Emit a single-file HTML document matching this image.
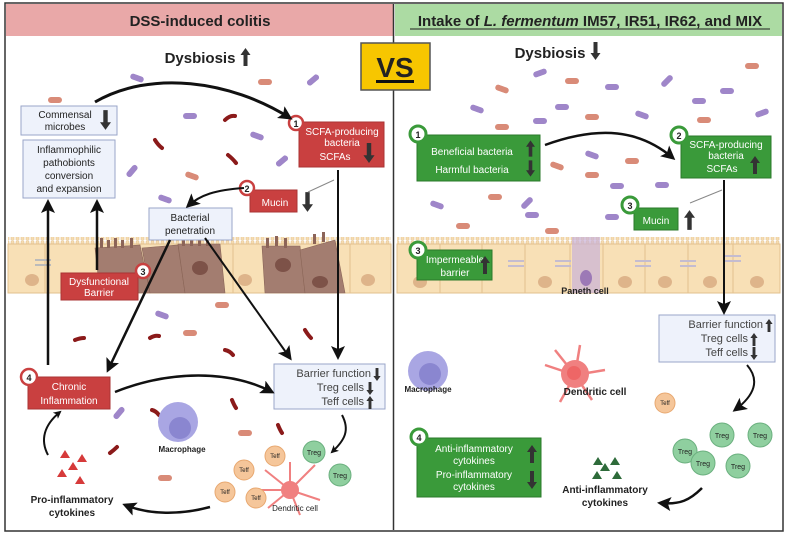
<!DOCTYPE html>
<html><head><meta charset="utf-8"><style>
html,body{margin:0;padding:0;background:#fff;width:787px;height:534px;overflow:hidden}
svg{display:block;font-family:"Liberation Sans",sans-serif}
.w{fill:#fff;font-size:10px;text-anchor:middle}
.k{fill:#222;text-anchor:middle}
</style></head><body>
<svg width="787" height="534" viewBox="0 0 787 534">
<defs>
<marker id="ah" markerWidth="8" markerHeight="8" refX="6" refY="4" orient="auto" markerUnits="userSpaceOnUse"><path d="M0,0 L8,4 L0,8 L2,4 Z" fill="#111"/></marker>
<marker id="ahb" markerWidth="14" markerHeight="14" refX="11" refY="7" orient="auto" markerUnits="userSpaceOnUse"><path d="M0,0 L14,7 L0,14 L3,7 Z" fill="#111"/></marker>
<symbol id="up" viewBox="0 0 10 18"><path d="M5,0 L10,7 L7,7 L7,18 L3,18 L3,7 L0,7 Z" fill="#333"/></symbol>
<symbol id="dn" viewBox="0 0 10 18"><path d="M5,18 L10,11 L7,11 L7,0 L3,0 L3,11 L0,11 Z" fill="#333"/></symbol>
<symbol id="bp" viewBox="0 0 14 6"><rect x="0" y="0" width="14" height="6" rx="3" fill="#9f86c9"/></symbol>
<symbol id="bo" viewBox="0 0 14 6"><rect x="0" y="0" width="14" height="6" rx="3" fill="#d98b78"/></symbol>
<pattern id="villi" width="5" height="8" patternUnits="userSpaceOnUse"><path d="M1,8 V2 A1.5,1.5 0 0 1 4,2 V8" fill="#f6dcb0" stroke="#e2c08e" stroke-width="0.6"/></pattern>
</defs>
<rect x="5" y="3" width="778" height="528" fill="#fff" stroke="#333" stroke-width="1.5"/>
<rect x="6" y="4" width="387" height="32" fill="#e9a8a8"/>
<rect x="395" y="4" width="387" height="32" fill="#acdba3"/>
<line x1="393.5" y1="4" x2="393.5" y2="530" stroke="#333" stroke-width="1.5"/>
<text x="200" y="26" class="k" font-size="15" font-weight="bold">DSS-induced colitis</text>
<text x="590" y="26" class="k" font-size="15" font-weight="bold">Intake of <tspan font-style="italic">L. fermentum</tspan> IM57, IR51, IR62, and MIX</text>
<line x1="410" y1="29" x2="770" y2="29" stroke="#222" stroke-width="1"/>

<rect x="361" y="43" width="69" height="47" fill="#f7c600" stroke="#555" stroke-width="1.5"/>
<text x="395" y="77" class="k" font-size="28" font-weight="bold" fill="#111">VS</text>
<rect x="376" y="80" width="38" height="3" fill="#111"/>

<rect x="8" y="237" width="383" height="8" fill="url(#villi)"/>
<rect x="8" y="244" width="383" height="49" fill="#f8e0b6" stroke="#e2c08e"/>
<g stroke="#e2c08e" stroke-width="1"><line x1="45" y1="244" x2="45" y2="293"/><line x1="233" y1="244" x2="233" y2="293"/><line x1="350" y1="244" x2="350" y2="293"/></g>
<g fill="#deb48a"><ellipse cx="32" cy="280" rx="7" ry="6"/><ellipse cx="72" cy="280" rx="7" ry="6"/><ellipse cx="245" cy="280" rx="7" ry="6"/><ellipse cx="368" cy="280" rx="7" ry="6"/><ellipse cx="330" cy="280" rx="7" ry="6"/></g>
<g fill="#a37d70" stroke="#8a6557" stroke-width="0.6">
<path d="M95,248 L140,245 L150,293 L100,293 Z"/><path d="M142,248 L178,245 L185,293 L150,293 Z"/><path d="M178,244 L220,244 L225,293 L185,293 Z"/>
<path d="M262,246 L300,246 L305,293 L265,293 Z"/><path d="M300,250 L335,240 L345,293 L305,293 Z"/></g>
<g fill="#7d5248"><ellipse cx="118" cy="283" rx="8" ry="6"/><ellipse cx="200" cy="268" rx="8" ry="7"/><ellipse cx="283" cy="265" rx="8" ry="7"/><ellipse cx="320" cy="282" rx="8" ry="6"/></g>
<g fill="#8c6458"><rect x="100" y="238" width="3" height="10"/><rect x="107" y="240" width="3" height="8"/><rect x="114" y="238" width="3" height="10"/><rect x="121" y="240" width="3" height="8"/><rect x="130" y="238" width="3" height="10"/><rect x="182" y="236" width="3" height="10"/><rect x="190" y="238" width="3" height="8"/><rect x="198" y="236" width="3" height="10"/><rect x="206" y="238" width="3" height="8"/><rect x="266" y="238" width="3" height="10"/><rect x="275" y="236" width="3" height="10"/><rect x="284" y="238" width="3" height="10"/><rect x="313" y="234" width="3" height="10"/><rect x="322" y="232" width="3" height="10"/></g>
<g fill="#bbb"><rect x="35" y="259" width="16" height="2"/><rect x="35" y="264" width="16" height="2"/></g>

<rect x="397" y="237" width="383" height="8" fill="url(#villi)"/>
<rect x="397" y="244" width="383" height="49" fill="#f8e0b6" stroke="#e2c08e"/>
<g stroke="#e2c08e" stroke-width="1"><line x1="440" y1="244" x2="440" y2="293"/><line x1="482" y1="244" x2="482" y2="293"/><line x1="525" y1="244" x2="525" y2="293"/><line x1="570" y1="244" x2="570" y2="293"/><line x1="603" y1="244" x2="603" y2="293"/><line x1="645" y1="244" x2="645" y2="293"/><line x1="688" y1="244" x2="688" y2="293"/><line x1="733" y1="244" x2="733" y2="293"/></g>
<rect x="572" y="237" width="28" height="56" fill="#c9b2d8" opacity="0.7"/>
<ellipse cx="586" cy="278" rx="6" ry="8" fill="#9c79b6"/>
<g fill="#deb48a"><ellipse cx="420" cy="282" rx="7" ry="6"/><ellipse cx="545" cy="282" rx="7" ry="6"/><ellipse cx="625" cy="282" rx="7" ry="6"/><ellipse cx="665" cy="282" rx="7" ry="6"/><ellipse cx="710" cy="282" rx="7" ry="6"/><ellipse cx="757" cy="282" rx="7" ry="6"/></g>
<g fill="#c4bcd0"><rect x="508" y="260" width="16" height="2"/><rect x="508" y="265" width="16" height="2"/><rect x="555" y="260" width="16" height="2"/><rect x="555" y="265" width="16" height="2"/><rect x="635" y="260" width="16" height="2"/><rect x="635" y="265" width="16" height="2"/><rect x="680" y="260" width="16" height="2"/><rect x="680" y="265" width="16" height="2"/><rect x="725" y="255" width="16" height="2"/><rect x="725" y="260" width="16" height="2"/></g>
<text x="585" y="294" class="k" font-size="9" font-weight="bold">Paneth cell</text>

<g>
<use href="#bp" x="533" y="70" width="14" height="6" transform="rotate(-20 540 73)"/>
<use href="#bo" x="565" y="78" width="14" height="6"/>
<use href="#bp" x="605" y="84" width="14" height="6"/>
<use href="#bp" x="660" y="78" width="14" height="6" transform="rotate(-45 667 81)"/>
<use href="#bo" x="745" y="63" width="14" height="6"/>
<use href="#bp" x="720" y="88" width="14" height="6"/>
<use href="#bo" x="495" y="86" width="14" height="6" transform="rotate(20 502 89)"/>
<use href="#bp" x="470" y="106" width="14" height="6" transform="rotate(20 477 109)"/>
<use href="#bp" x="555" y="104" width="14" height="6"/>
<use href="#bo" x="585" y="114" width="14" height="6"/>
<use href="#bp" x="635" y="112" width="14" height="6" transform="rotate(20 642 115)"/>
<use href="#bp" x="692" y="98" width="14" height="6"/>
<use href="#bo" x="697" y="117" width="14" height="6"/>
<use href="#bp" x="755" y="110" width="14" height="6" transform="rotate(-20 762 113)"/>
<use href="#bo" x="495" y="124" width="14" height="6"/>
<use href="#bp" x="533" y="118" width="14" height="6"/>
<use href="#bp" x="585" y="152" width="14" height="6" transform="rotate(20 592 155)"/>
<use href="#bo" x="625" y="158" width="14" height="6"/>
<use href="#bo" x="550" y="163" width="14" height="6" transform="rotate(20 557 166)"/>
<use href="#bo" x="585" y="172" width="14" height="6"/>
<use href="#bp" x="610" y="183" width="14" height="6"/>
<use href="#bp" x="655" y="182" width="14" height="6"/>
<use href="#bo" x="488" y="194" width="14" height="6"/>
<use href="#bp" x="430" y="202" width="14" height="6" transform="rotate(20 437 205)"/>
<use href="#bp" x="520" y="200" width="14" height="6" transform="rotate(-45 527 203)"/>
<use href="#bp" x="525" y="212" width="14" height="6"/>
<use href="#bo" x="456" y="223" width="14" height="6"/>
<use href="#bp" x="605" y="214" width="14" height="6"/>
<use href="#bo" x="545" y="228" width="14" height="6"/>
</g>
<g>
<use href="#bp" x="130" y="75" width="14" height="6" transform="rotate(20 137 78)"/>
<use href="#bo" x="258" y="79" width="14" height="6"/>
<use href="#bp" x="306" y="77" width="14" height="6" transform="rotate(-40 313 80)"/>
<use href="#bo" x="48" y="97" width="14" height="6"/>
<use href="#bp" x="183" y="113" width="14" height="6"/>
<use href="#bp" x="250" y="133" width="14" height="6" transform="rotate(20 257 136)"/>
<use href="#bp" x="275" y="158" width="14" height="6" transform="rotate(-40 282 161)"/>
<use href="#bp" x="125" y="168" width="14" height="6" transform="rotate(-50 132 171)"/>
<use href="#bo" x="185" y="173" width="14" height="6" transform="rotate(20 192 176)"/>
<use href="#bp" x="158" y="196" width="14" height="6" transform="rotate(20 165 199)"/>
<use href="#bp" x="155" y="312" width="14" height="6" transform="rotate(20 162 315)"/>
<use href="#bo" x="215" y="302" width="14" height="6"/>
<use href="#bo" x="183" y="330" width="14" height="6"/>
<use href="#bp" x="112" y="410" width="14" height="6" transform="rotate(-50 119 413)"/>
<use href="#bo" x="238" y="430" width="14" height="6"/>
<use href="#bo" x="158" y="475" width="14" height="6"/>
</g>
<g fill="none" stroke="#8b1a1a" stroke-width="4" stroke-linecap="round">
<path d="M225,120 q5,-5 10,-4"/><path d="M155,140 q3,5 7,8"/><path d="M228,155 q5,4 8,8"/><path d="M75,340 q5,-2 9,-2"/><path d="M150,338 q5,-3 9,-2"/><path d="M225,350 q5,1 8,5"/><path d="M305,330 q3,5 6,8"/><path d="M232,400 q2,5 4,8"/><path d="M278,425 q2,5 4,8"/><path d="M110,453 q4,-3 7,-6"/><path d="M152,410 q4,1 7,5"/>
</g>

<text x="200" y="63" class="k" font-size="15" font-weight="bold">Dysbiosis</text>
<use href="#up" x="240" y="48" width="11" height="18"/>
<text x="550" y="58" class="k" font-size="15" font-weight="bold">Dysbiosis</text>
<use href="#dn" x="590" y="42" width="11" height="18"/>

<rect x="21" y="106" width="96" height="29" fill="#eef2fb" stroke="#9aa6c8"/>
<text x="65" y="118" class="k" font-size="10" fill="#444">Commensal</text>
<text x="65" y="130" class="k" font-size="10" fill="#444">microbes</text>
<use href="#dn" x="100" y="110" width="11" height="20"/>
<rect x="23" y="140" width="92" height="58" fill="#eef2fb" stroke="#9aa6c8"/>
<g class="k" font-size="10" fill="#444"><text x="69" y="153">Inflammophilic</text><text x="69" y="166">pathobionts</text><text x="69" y="179">conversion</text><text x="69" y="192">and expansion</text></g>

<rect x="299" y="122" width="85" height="45" fill="#c94040" stroke="#a33"/>
<text x="342" y="135" class="w" font-size="9">SCFA-producing</text>
<text x="342" y="146" class="w" font-size="9">bacteria</text>
<text x="335" y="160" class="w" font-size="9">SCFAs</text>
<use href="#dn" x="363" y="143" width="12" height="20"/>
<circle cx="296" cy="123" r="7" fill="#fff" stroke="#c94040" stroke-width="2.5"/><text x="296" y="127" class="k" font-size="9" font-weight="bold" fill="#c94040">1</text>

<rect x="250" y="190" width="47" height="22" fill="#c94040" stroke="#a33"/>
<text x="275" y="206" class="w" font-size="12">Mucin</text>
<circle cx="247" cy="188" r="7" fill="#fff" stroke="#c94040" stroke-width="2.5"/><text x="247" y="192" class="k" font-size="9" font-weight="bold" fill="#c94040">2</text>
<use href="#dn" x="302" y="192" width="11" height="20"/>

<rect x="149" y="208" width="83" height="32" fill="#eef2fb" stroke="#9aa6c8"/>
<text x="190" y="221" class="k" font-size="10" fill="#444">Bacterial</text>
<text x="190" y="234" class="k" font-size="10" fill="#444">penetration</text>

<rect x="61" y="273" width="77" height="27" fill="#c94040" stroke="#a33"/>
<text x="99" y="285" class="w" font-size="9">Dysfunctional</text>
<text x="99" y="296" class="w" font-size="9">Barrier</text>
<circle cx="143" cy="271" r="7" fill="#fff" stroke="#c94040" stroke-width="2.5"/><text x="143" y="275" class="k" font-size="9" font-weight="bold" fill="#333">3</text>

<rect x="28" y="377" width="82" height="32" fill="#c94040" stroke="#a33"/>
<text x="69" y="390" class="w" font-size="11">Chronic</text>
<text x="69" y="404" class="w" font-size="11">Inflammation</text>
<circle cx="29" cy="377" r="8" fill="#fff" stroke="#c94040" stroke-width="2.5"/><text x="29" y="381" class="k" font-size="9" font-weight="bold" fill="#333">4</text>

<rect x="274" y="364" width="111" height="45" fill="#eef2fb" stroke="#9aa6c8"/>
<g font-size="11" fill="#444" text-anchor="end"><text x="371" y="377">Barrier function</text><text x="364" y="391">Treg cells</text><text x="364" y="405">Teff cells</text></g>
<use href="#dn" x="373" y="368" width="8" height="13"/><use href="#dn" x="366" y="382" width="8" height="13"/><use href="#up" x="366" y="396" width="8" height="13"/>

<g stroke="#111" fill="none">
<path d="M95,102 C150,70 230,80 290,118" stroke-width="3" marker-end="url(#ahb)"/>
<path d="M244,188 C215,190 200,195 188,206" stroke-width="2" marker-end="url(#ahb)"/>
<line x1="48" y1="365" x2="48" y2="202" stroke-width="2.5" marker-end="url(#ahb)"/>
<line x1="97" y1="270" x2="97" y2="202" stroke-width="2.5" marker-end="url(#ahb)"/>
<line x1="170" y1="240" x2="108" y2="370" stroke-width="2.5" marker-end="url(#ahb)"/>
<line x1="205" y1="238" x2="290" y2="358" stroke-width="2" marker-end="url(#ahb)"/>
<line x1="338" y1="170" x2="338" y2="357" stroke-width="2" marker-end="url(#ahb)"/>
<line x1="334" y1="180" x2="308" y2="192" stroke="#888" stroke-width="1"/>
<path d="M115,392 C170,370 230,370 272,392" stroke-width="2.5" marker-end="url(#ahb)"/>
<path d="M342,415 C350,430 345,440 332,452" stroke-width="2" marker-end="url(#ah)"/>
<path d="M210,507 C180,515 150,515 125,505" stroke-width="2.5" marker-end="url(#ahb)"/>
<path d="M48,455 C40,440 44,425 60,412" stroke-width="2" marker-end="url(#ah)"/>
</g>
<g fill="#d63a3a"><path d="M60,458 l5,-8 l5,8z"/><path d="M77,462 l5,-8 l5,8z"/><path d="M68,470 l5,-8 l5,8z"/><path d="M57,477 l5,-8 l5,8z"/><path d="M75,484 l5,-8 l5,8z"/></g>
<text x="72" y="503" class="k" font-size="10" font-weight="bold">Pro-inflammatory</text>
<text x="72" y="516" class="k" font-size="10" font-weight="bold">cytokines</text>

<circle cx="178" cy="422" r="20" fill="#a9a6e3"/><circle cx="180" cy="428" r="11" fill="#8a86d0"/>
<text x="182" y="452" class="k" font-size="8" font-weight="bold">Macrophage</text>
<g stroke="#f08080" stroke-width="2"><line x1="290" y1="490" x2="265" y2="470"/><line x1="290" y1="490" x2="315" y2="465"/><line x1="290" y1="490" x2="320" y2="500"/><line x1="290" y1="490" x2="268" y2="508"/><line x1="290" y1="490" x2="300" y2="515"/><line x1="290" y1="490" x2="260" y2="490"/><line x1="290" y1="490" x2="290" y2="462"/></g>
<circle cx="290" cy="490" r="9" fill="#f08080"/>
<text x="295" y="511" class="k" font-size="8">Dendritic cell</text>
<g fill="#f5c69a" stroke="#e8a870"><circle cx="275" cy="456" r="10"/><circle cx="244" cy="470" r="10"/><circle cx="225" cy="492" r="10"/><circle cx="256" cy="498" r="10"/></g>
<g font-size="6" class="k"><text x="275" y="458">Teff</text><text x="244" y="472">Teff</text><text x="225" y="494">Teff</text><text x="256" y="500">Teff</text></g>
<g fill="#8fcf9f" stroke="#6bb07f"><circle cx="314" cy="452" r="11"/><circle cx="340" cy="475" r="11"/></g>
<g font-size="7" class="k"><text x="314" y="455">Treg</text><text x="340" y="478">Treg</text></g>

<rect x="417" y="135" width="123" height="46" fill="#3a9a3a" stroke="#2b7a2b"/>
<text x="472" y="155" class="w" font-size="11">Beneficial bacteria</text>
<text x="472" y="173" class="w" font-size="11">Harmful bacteria</text>
<use href="#up" x="526" y="140" width="9" height="17"/><use href="#dn" x="526" y="160" width="9" height="17"/>
<circle cx="418" cy="134" r="8" fill="#fff" stroke="#3a9a3a" stroke-width="3"/><text x="418" y="138" class="k" font-size="9" font-weight="bold">1</text>

<rect x="681" y="136" width="90" height="42" fill="#3a9a3a" stroke="#2b7a2b"/>
<text x="726" y="148" class="w" font-size="9">SCFA-producing</text>
<text x="726" y="159" class="w" font-size="9">bacteria</text>
<text x="722" y="172" class="w" font-size="9">SCFAs</text>
<use href="#up" x="750" y="156" width="10" height="18"/>
<circle cx="679" cy="135" r="8" fill="#fff" stroke="#3a9a3a" stroke-width="3"/><text x="679" y="139" class="k" font-size="9" font-weight="bold">2</text>

<rect x="634" y="208" width="44" height="22" fill="#3a9a3a" stroke="#2b7a2b"/>
<text x="656" y="224" class="w" font-size="11">Mucin</text>
<use href="#up" x="684" y="210" width="11" height="20"/>
<circle cx="630" cy="205" r="8" fill="#fff" stroke="#3a9a3a" stroke-width="3"/><text x="630" y="209" class="k" font-size="9" font-weight="bold">3</text>

<rect x="417" y="250" width="75" height="30" fill="#3a9a3a" stroke="#2b7a2b"/>
<text x="455" y="263" class="w" font-size="10">Impermeable</text>
<text x="455" y="276" class="w" font-size="10">barrier</text>
<use href="#up" x="480" y="254" width="10" height="22"/>
<circle cx="418" cy="250" r="8" fill="#fff" stroke="#3a9a3a" stroke-width="3"/><text x="418" y="254" class="k" font-size="9" font-weight="bold">3</text>

<rect x="659" y="315" width="116" height="47" fill="#eef2fb" stroke="#9aa6c8"/>
<g font-size="11" fill="#444" text-anchor="end"><text x="763" y="328">Barrier function</text><text x="748" y="342">Treg cells</text><text x="748" y="356">Teff cells</text></g>
<use href="#up" x="765" y="319" width="8" height="13"/><use href="#up" x="750" y="333" width="8" height="13"/><use href="#dn" x="750" y="347" width="8" height="13"/>

<rect x="417" y="438" width="124" height="59" fill="#3a9a3a" stroke="#2b7a2b"/>
<g class="w" font-size="10"><text x="474" y="452">Anti-inflammatory</text><text x="474" y="464">cytokines</text><text x="474" y="478">Pro-inflammatory</text><text x="474" y="490">cytokines</text></g>
<use href="#up" x="527" y="444" width="10" height="20"/><use href="#dn" x="527" y="470" width="10" height="20"/>
<circle cx="419" cy="437" r="8" fill="#fff" stroke="#3a9a3a" stroke-width="3"/><text x="419" y="441" class="k" font-size="9" font-weight="bold">4</text>

<g stroke="#111" fill="none">
<path d="M545,145 C600,125 640,130 673,158" stroke-width="2.5" marker-end="url(#ahb)"/>
<line x1="724" y1="180" x2="724" y2="312" stroke-width="2" marker-end="url(#ahb)"/>
<line x1="722" y1="190" x2="690" y2="203" stroke="#888" stroke-width="1"/>
<path d="M747,365 C760,380 755,395 735,410" stroke-width="2" marker-end="url(#ahb)"/>
<path d="M702,488 C690,500 680,505 660,503" stroke-width="2.5" marker-end="url(#ahb)"/>
</g>
<circle cx="428" cy="371" r="20" fill="#a9a6e3"/><circle cx="430" cy="374" r="11" fill="#8a86d0"/>
<text x="428" y="392" class="k" font-size="8" font-weight="bold">Macrophage</text>
<g stroke="#f08080" stroke-width="2.5"><line x1="575" y1="375" x2="545" y2="365"/><line x1="575" y1="375" x2="580" y2="345"/><line x1="575" y1="375" x2="605" y2="370"/><line x1="575" y1="375" x2="592" y2="400"/><line x1="575" y1="375" x2="560" y2="402"/><line x1="575" y1="375" x2="555" y2="350"/></g>
<circle cx="575" cy="374" r="14" fill="#f08080"/><circle cx="574" cy="373" r="7" fill="#e66"/>
<text x="595" y="395" class="k" font-size="10" font-weight="bold">Dendritic cell</text>
<circle cx="665" cy="403" r="10" fill="#f5c69a" stroke="#e8a870"/><text x="665" y="405" class="k" font-size="6">Teff</text>
<g fill="#8fcf9f" stroke="#6bb07f"><circle cx="722" cy="435" r="12"/><circle cx="760" cy="435" r="12"/><circle cx="685" cy="451" r="12"/><circle cx="703" cy="463" r="12"/><circle cx="738" cy="466" r="12"/></g>
<g font-size="7" class="k"><text x="722" y="438">Treg</text><text x="760" y="438">Treg</text><text x="685" y="454">Treg</text><text x="703" y="466">Treg</text><text x="738" y="469">Treg</text></g>
<g fill="#2e6b3a"><path d="M593,465 l5,-8 l5,8z"/><path d="M610,465 l5,-8 l5,8z"/><path d="M600,471 l5,-8 l5,8z"/><path d="M592,479 l5,-8 l5,8z"/><path d="M612,479 l5,-8 l5,8z"/></g>
<text x="605" y="493" class="k" font-size="10" font-weight="bold">Anti-inflammatory</text>
<text x="605" y="506" class="k" font-size="10" font-weight="bold">cytokines</text>
</svg>
</body></html>
